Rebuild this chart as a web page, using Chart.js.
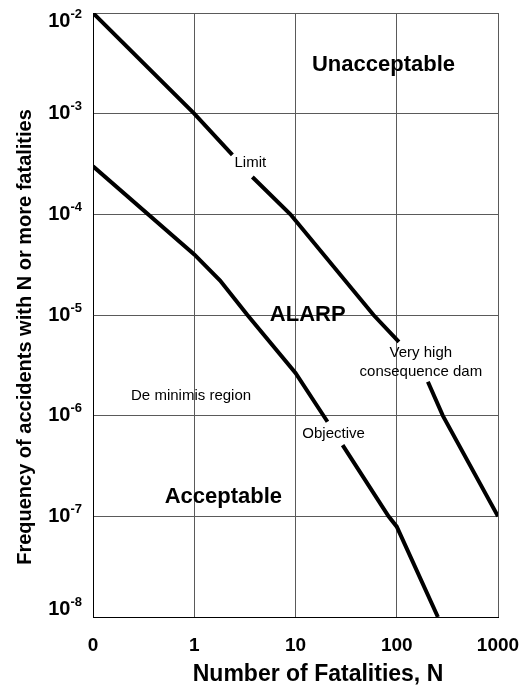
<!DOCTYPE html>
<html>
<head>
<meta charset="utf-8">
<script src="https://cdn.jsdelivr.net/npm/chart.js@4"></script>
<style>
  html, body { margin: 0; padding: 0; background: #fff; }
  #wrap { width: 526px; height: 688px; }
</style>
</head>
<body>
<div id="wrap"><canvas id="fn"></canvas></div>
<script>
// Values (N = fatalities, F = frequency per year)
const limitN = [0.1, 1, 2.38];
const limitF = [1e-2, 1e-3, 3.9e-4];
const limitN2 = [3.75, 8.9, 59, 105];
const limitF2 = [2.35e-4, 1e-4, 1e-5, 5.4e-6];
const damN = [203, 285, 1000];
const damF = [2.17e-6, 1e-6, 1e-7];
const objN = [0.1, 1, 1.8, 3.35, 10, 20.7];
const objF = [3e-4, 4e-5, 2.2e-5, 1e-5, 2.66e-6, 8.7e-7];
const objN2 = [29.2, 83, 100, 255];
const objF2 = [5.1e-7, 1e-7, 7.9e-8, 1e-8];

const xTicks = [0.1, 1, 10, 100, 1000];
const xTickLabels = ['0', '1', '10', '100', '1000'];
const yTicks = [1e-2, 1e-3, 1e-4, 1e-5, 1e-6, 1e-7, 1e-8];
const yExponents = ['-2', '-3', '-4', '-5', '-6', '-7', '-8'];

// region / line labels, placed in data coordinates
const notes = [
  { text: 'Unacceptable', n: 74, f: 3.05e-3, bold: true },
  { text: 'Limit', n: 3.58, f: 3.24e-4, bold: false },
  { text: 'ALARP', n: 13.2, f: 1e-5, bold: true },
  { text: 'Very high', n: 173, f: 4.2e-6, bold: false },
  { text: 'consequence dam', n: 173, f: 2.72e-6, bold: false },
  { text: 'De minimis region', n: 0.93, f: 1.58e-6, bold: false },
  { text: 'Objective', n: 23.8, f: 6.6e-7, bold: false },
  { text: 'Acceptable', n: 1.94, f: 1.56e-7, bold: true }
];

const FONT = "'Liberation Sans', Arial, sans-serif";

function pts(xs, ys) {
  return xs.map(function (x, i) { return { x: x, y: ys[i] }; });
}

function lineSet(xs, ys) {
  return {
    data: pts(xs, ys),
    showLine: true,
    borderColor: '#000',
    borderWidth: 4,
    pointRadius: 0,
    tension: 0,
    fill: false
  };
}

const textPlugin = {
  id: 'fnText',
  afterDraw: function (chart) {
    const ctx = chart.ctx;
    const xs = chart.scales.x;
    const ys = chart.scales.y;
    ctx.save();
    ctx.fillStyle = '#000';
    ctx.textBaseline = 'middle';

    // y tick labels: 10 with superscript exponent
    yTicks.forEach(function (v, i) {
      let y = ys.getPixelForValue(v);
      y = Math.min(Math.max(y, 21), 609);
      ctx.font = 'bold 13px ' + FONT;
      const ew = ctx.measureText(yExponents[i]).width;
      const right = 82;
      ctx.textAlign = 'right';
      ctx.fillText(yExponents[i], right, y - 7);
      ctx.font = 'bold 20px ' + FONT;
      ctx.fillText('10', right - ew, y);
    });

    // axis titles
    ctx.textAlign = 'center';
    ctx.font = 'bold 23px ' + FONT;
    ctx.fillText('Number of Fatalities, N', 318, 675);
    ctx.font = 'bold 20px ' + FONT;
    ctx.save();
    ctx.translate(25, 337);
    ctx.rotate(-Math.PI / 2);
    ctx.fillText('Frequency of accidents with N or more fatalities', 0, 0);
    ctx.restore();

    // labels on the plot
    notes.forEach(function (n) {
      ctx.font = (n.bold ? 'bold 22px ' : '15px ') + FONT;
      ctx.fillText(n.text, xs.getPixelForValue(n.n), ys.getPixelForValue(n.f));
    });
    ctx.restore();
  }
};

new Chart(document.getElementById('fn'), {
  type: 'scatter',
  data: {
    datasets: [
      lineSet(limitN, limitF),
      lineSet(limitN2, limitF2),
      lineSet(damN, damF),
      lineSet(objN, objF),
      lineSet(objN2, objF2)
    ]
  },
  options: {
    responsive: true,
    maintainAspectRatio: false,
    animation: false,
    layout: { padding: { top: 13, right: 28, left: 0, bottom: 0 } },
    plugins: {
      legend: { display: false },
      tooltip: { enabled: false }
    },
    scales: {
      x: {
        type: 'logarithmic',
        min: 0.1,
        max: 1000,
        afterBuildTicks: function (scale) {
          scale.ticks = xTicks.map(function (v) { return { value: v }; });
        },
        afterFit: function (scale) {
          scale.height = 71;
          scale.paddingLeft = 0;
          scale.paddingRight = 0;
        },
        grid: { color: '#5a5a5a', lineWidth: 1, drawTicks: false },
        border: { color: '#000', width: 1 },
        ticks: {
          color: '#000',
          padding: 17,
          maxRotation: 0,
          autoSkip: false,
          font: { family: FONT, size: 19, weight: 'bold' },
          callback: function (v) {
            const i = xTicks.indexOf(v);
            return i >= 0 ? xTickLabels[i] : '';
          }
        }
      },
      y: {
        type: 'logarithmic',
        min: 1e-8,
        max: 1e-2,
        afterBuildTicks: function (scale) {
          scale.ticks = yTicks.map(function (v) { return { value: v }; });
        },
        afterFit: function (scale) { scale.width = 93; },
        grid: { color: '#5a5a5a', lineWidth: 1, drawTicks: false },
        border: { color: '#000', width: 1 },
        ticks: { display: false }
      }
    }
  },
  plugins: [textPlugin]
});
</script>
</body>
</html>
